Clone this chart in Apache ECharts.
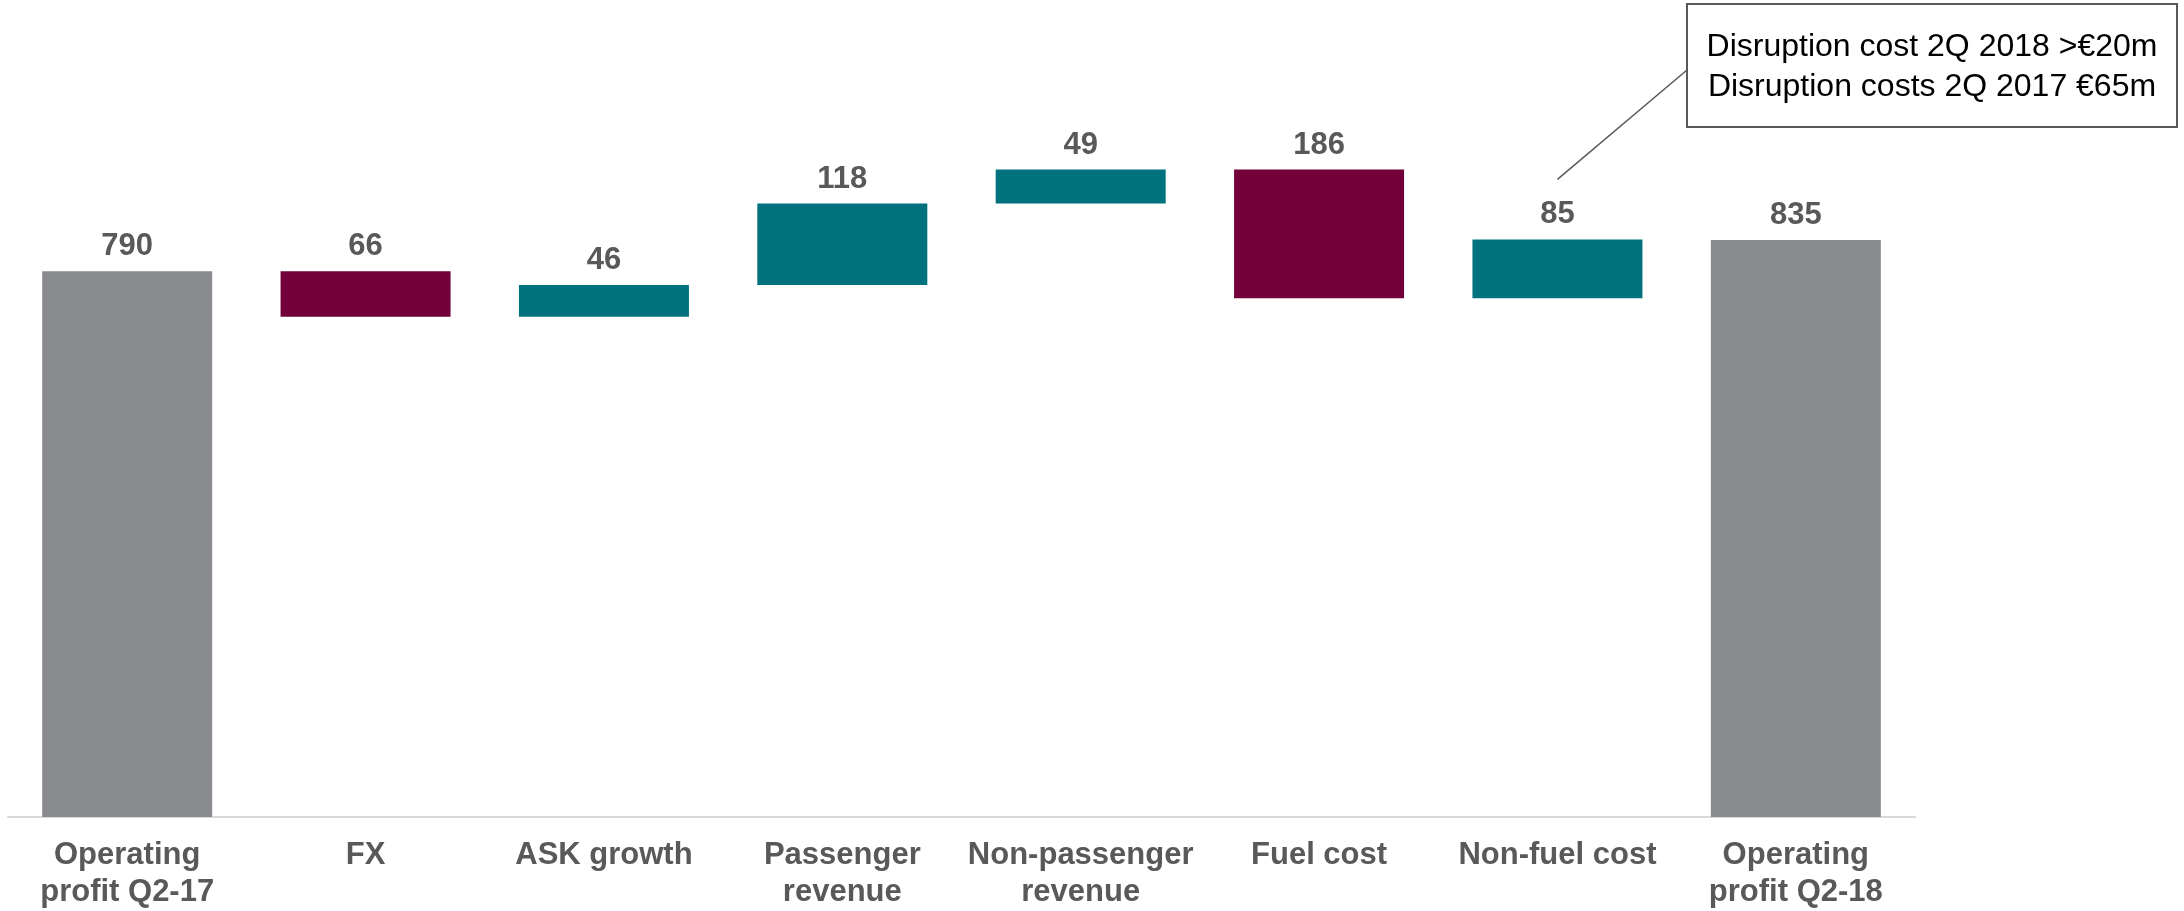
<!DOCTYPE html>
<html>
<head>
<meta charset="utf-8">
<script src="https://cdn.jsdelivr.net/npm/echarts@6/dist/echarts.min.js"></script>
<style>
html,body{margin:0;padding:0;background:#fff;}
#c{width:2184px;height:911px;}
</style>
</head>
<body>
<div id="c"></div>
<script>
const categories = ['Operating\nprofit Q2-17','FX','ASK growth','Passenger\nrevenue','Non-passenger\nrevenue','Fuel cost','Non-fuel cost','Operating\nprofit Q2-18'];
const deltas = [790, -66, 46, 118, 49, -186, 85, 835];
const kinds = ['total','delta','delta','delta','delta','delta','delta','total'];
const noteLines = ['Disruption cost 2Q 2018 >€20m','Disruption costs 2Q 2017 €65m'];

const GRAY = '#898A8E', TEAL = '#00727E', MAROON = '#72003A';

const base = [], shown = [], colors = [];
let cum = 0;
deltas.forEach((v, i) => {
  if (kinds[i] === 'total') {
    base.push(0); shown.push(v); colors.push(GRAY); cum = v;
  } else if (v >= 0) {
    base.push(cum); shown.push(v); colors.push(TEAL); cum += v;
  } else {
    cum += v; base.push(cum); shown.push(-v); colors.push(MAROON);
  }
});

const chart = echarts.init(document.getElementById('c'));
const font = "'Liberation Sans', Arial, sans-serif";
chart.setOption({
  animation: false,
  grid: {left: 8, right: 269, top: 57, bottom: 91, containLabel: false},
  xAxis: {
    type: 'category', data: categories,
    axisLine: {show: true, lineStyle: {color: '#D9D9D9', width: 2}},
    axisTick: {show: false},
    axisLabel: {interval: 0, fontFamily: font, fontSize: 31, fontWeight: 'bold', color: '#595959', lineHeight: 37, margin: 20}
  },
  yAxis: {type: 'value', min: 0, max: 1100, show: false, splitLine: {show: false}},
  series: [
    {type: 'bar', stack: 'w', data: base, itemStyle: {color: 'transparent'}, barWidth: 170, silent: true},
    {type: 'bar', stack: 'w', barWidth: 170,
     data: shown.map((v, i) => ({value: v, itemStyle: {color: colors[i]}})),
     label: {show: true, position: 'top', distance: 9, fontFamily: font, fontSize: 31, fontWeight: 'bold', color: '#58595B'}
    }
  ]
});

// annotation with leader line anchored to the Non-fuel cost bar
const noteIdx = 6;
const barTop = chart.convertToPixel({gridIndex: 0}, [noteIdx, base[noteIdx] + shown[noteIdx]]);
chart.setOption({
  graphic: [
    {type: 'line', shape: {x1: barTop[0], y1: barTop[1] - 60, x2: 1687, y2: 70}, style: {stroke: '#595959', lineWidth: 1.5}},
    {type: 'rect', shape: {x: 1687, y: 4, width: 490, height: 123}, style: {fill: '#fff', stroke: '#595959', lineWidth: 2}},
    {type: 'text', x: 1932, y: 67, style: {text: noteLines.join('\n'), font: "32px " + font, fill: '#000', align: 'center', verticalAlign: 'middle', lineHeight: 40}}
  ]
});
</script>
</body>
</html>
